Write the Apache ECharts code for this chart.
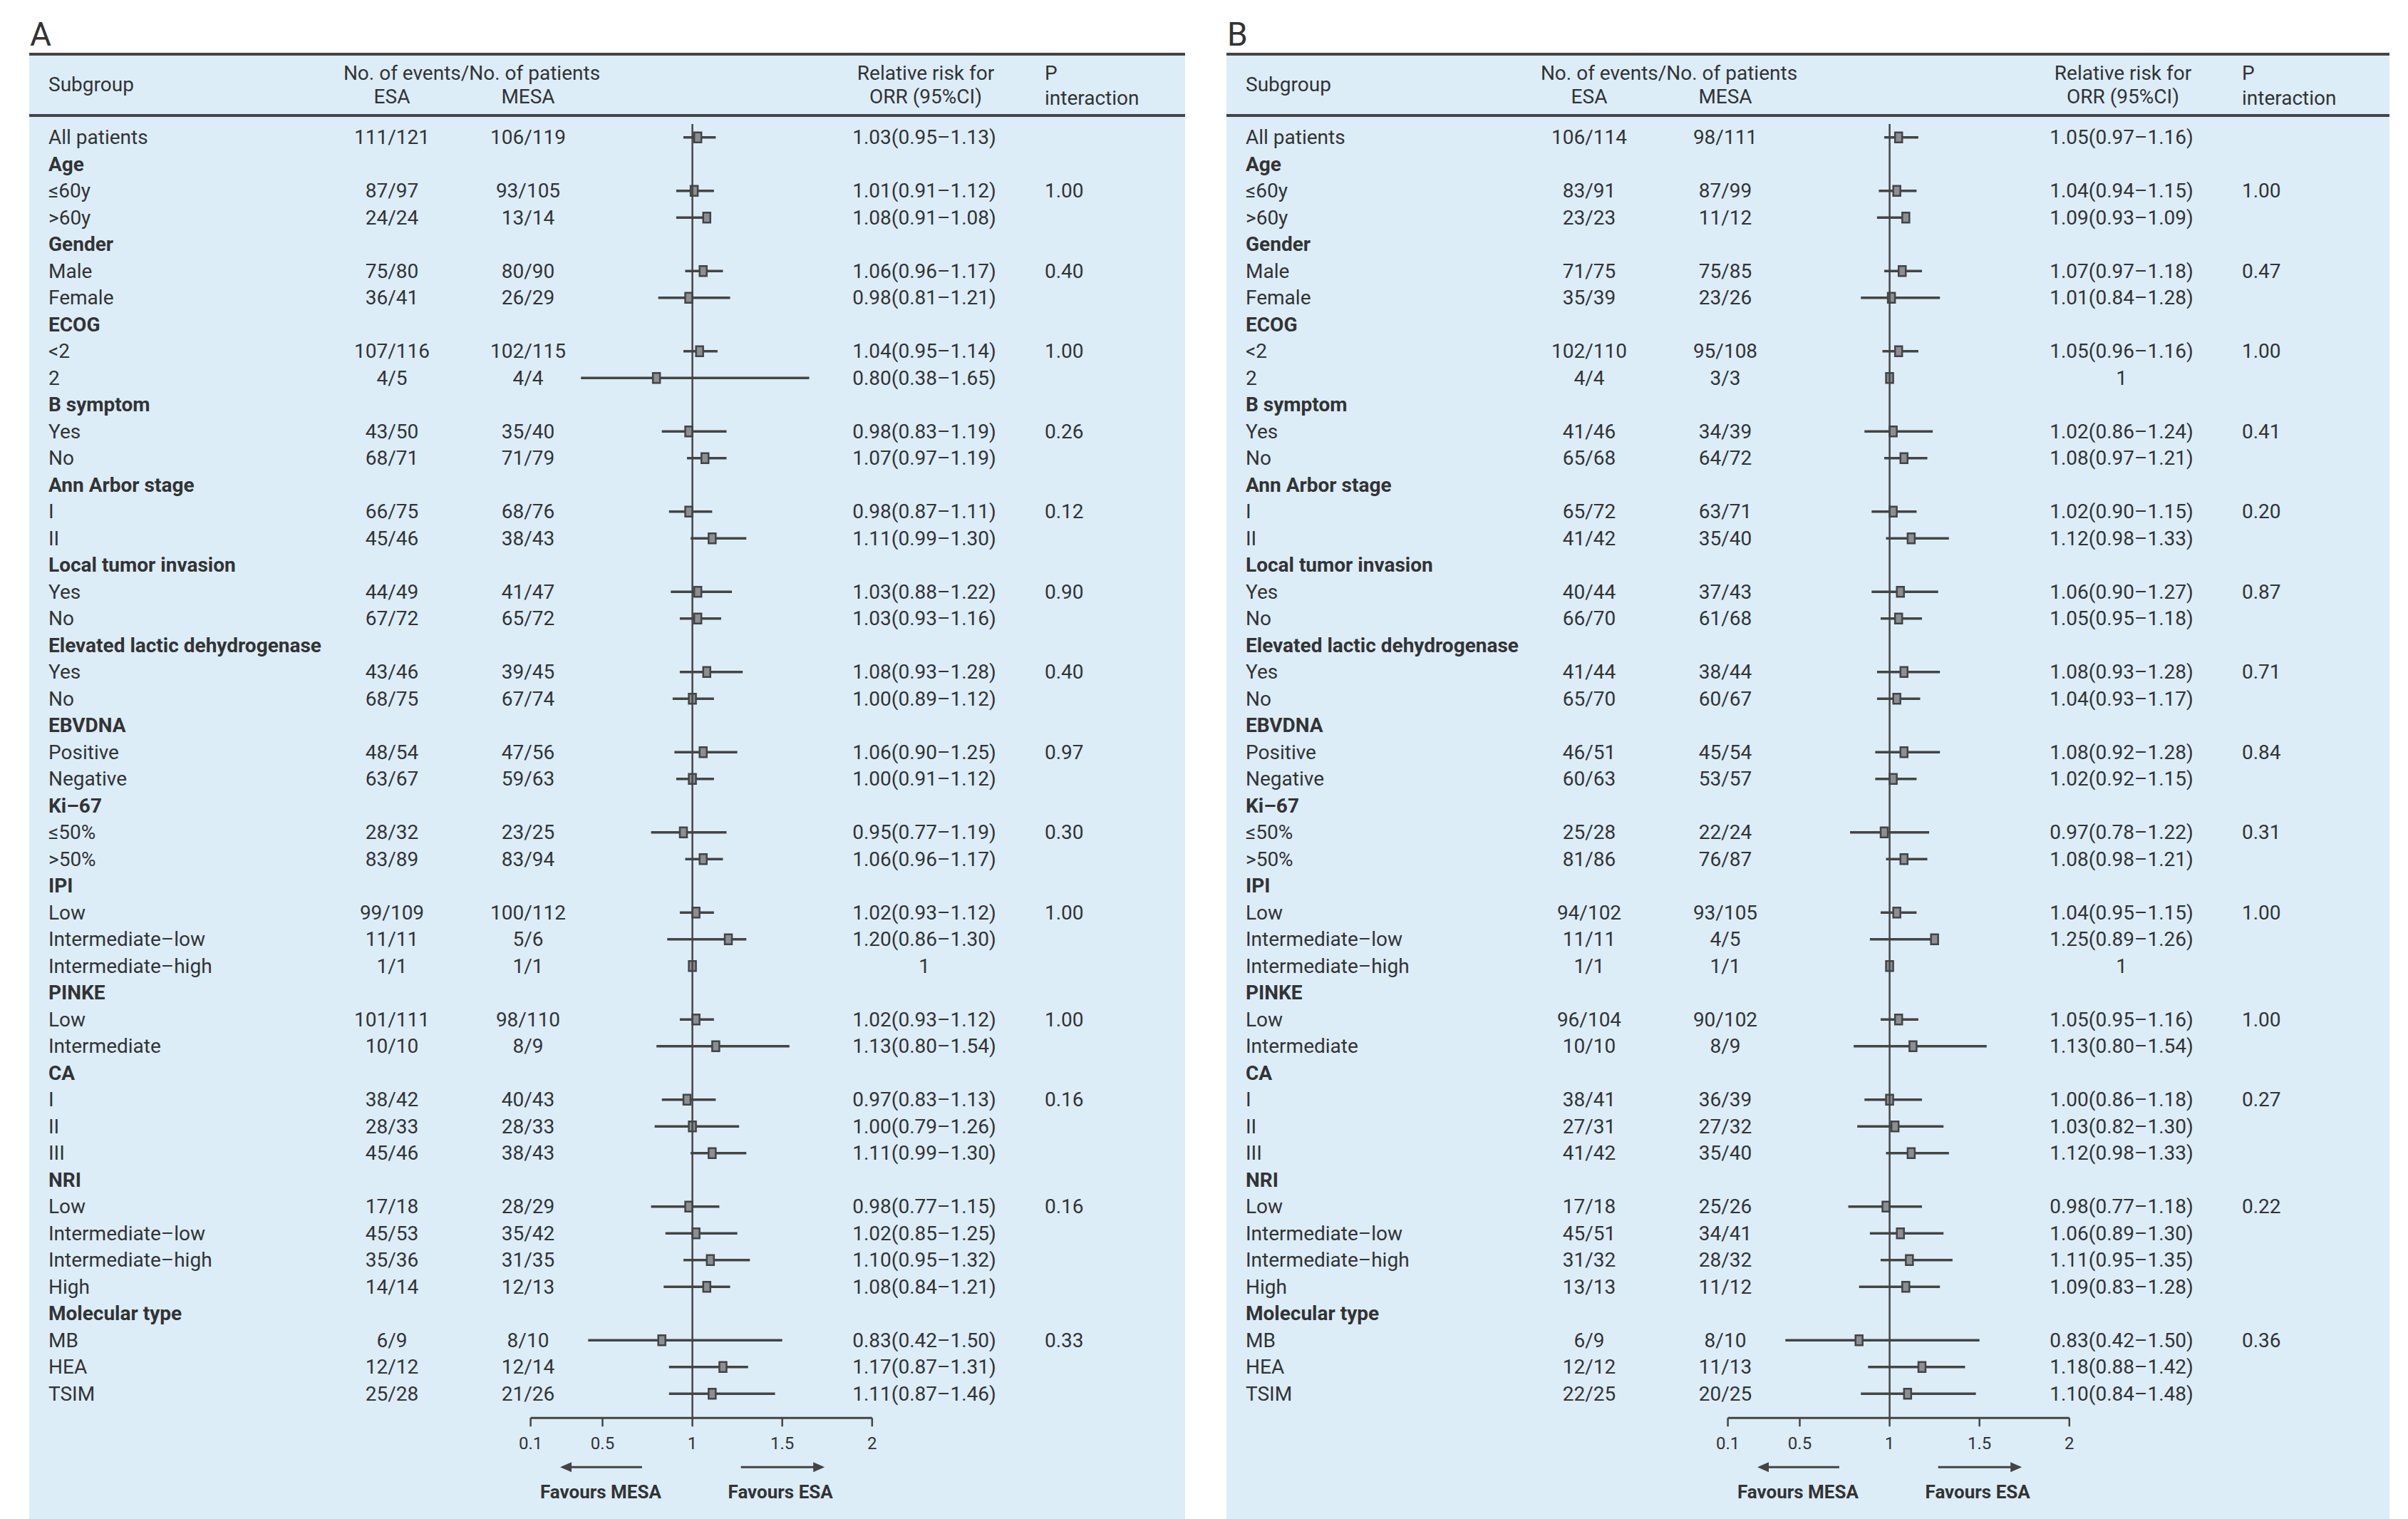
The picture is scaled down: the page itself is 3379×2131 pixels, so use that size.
<!DOCTYPE html>
<html>
<head>
<meta charset="utf-8">
<script src="https://cdn.jsdelivr.net/npm/echarts@6/dist/echarts.min.js"></script>
<style>html,body{margin:0;padding:0;background:#fff}#chart{width:3379px;height:2131px}</style>
</head>
<body>
<div id="chart"></div>
<script>
// rows of the table (header rows are bold, no data)
var subgroups = ['All patients','Age','≤60y','>60y','Gender','Male','Female','ECOG','<2','2','B symptom','Yes','No',
  'Ann Arbor stage','I','II','Local tumor invasion','Yes','No','Elevated lactic dehydrogenase','Yes','No',
  'EBVDNA','Positive','Negative','Ki–67','≤50%','>50%','IPI','Low','Intermediate–low','Intermediate–high',
  'PINKE','Low','Intermediate','CA','I','II','III','NRI','Low','Intermediate–low','Intermediate–high','High',
  'Molecular type','MB','HEA','TSIM'];
var headerRows = [1,4,7,10,13,16,19,22,25,28,32,35,39,44];

// panel A (34 data rows, in order)
var esaA = ['111/121','87/97','24/24','75/80','36/41','107/116','4/5','43/50','68/71','66/75','45/46','44/49','67/72',
  '43/46','68/75','48/54','63/67','28/32','83/89','99/109','11/11','1/1','101/111','10/10','38/42','28/33','45/46',
  '17/18','45/53','35/36','14/14','6/9','12/12','25/28'];
var mesaA = ['106/119','93/105','13/14','80/90','26/29','102/115','4/4','35/40','71/79','68/76','38/43','41/47','65/72',
  '39/45','67/74','47/56','59/63','23/25','83/94','100/112','5/6','1/1','98/110','8/9','40/43','28/33','38/43',
  '28/29','35/42','31/35','12/13','8/10','12/14','21/26'];
var estA = [1.03,1.01,1.08,1.06,0.98,1.04,0.80,0.98,1.07,0.98,1.11,1.03,1.03,1.08,1.00,1.06,1.00,0.95,1.06,1.02,1.20,1,
  1.02,1.13,0.97,1.00,1.11,0.98,1.02,1.10,1.08,0.83,1.17,1.11];
var loA = [0.95,0.91,0.91,0.96,0.81,0.95,0.38,0.83,0.97,0.87,0.99,0.88,0.93,0.93,0.89,0.90,0.91,0.77,0.96,0.93,0.86,1,
  0.93,0.80,0.83,0.79,0.99,0.77,0.85,0.95,0.84,0.42,0.87,0.87];
var hiA = [1.13,1.12,1.08,1.17,1.21,1.14,1.65,1.19,1.19,1.11,1.30,1.22,1.16,1.28,1.12,1.25,1.12,1.19,1.17,1.12,1.30,1,
  1.12,1.54,1.13,1.26,1.30,1.15,1.25,1.32,1.21,1.50,1.31,1.46];
var pA = ['','1.00','','0.40','','1.00','','0.26','','0.12','','0.90','','0.40','','0.97','','0.30','','1.00','','',
  '1.00','','0.16','','','0.16','','','','0.33','',''];

// panel B
var esaB = ['106/114','83/91','23/23','71/75','35/39','102/110','4/4','41/46','65/68','65/72','41/42','40/44','66/70',
  '41/44','65/70','46/51','60/63','25/28','81/86','94/102','11/11','1/1','96/104','10/10','38/41','27/31','41/42',
  '17/18','45/51','31/32','13/13','6/9','12/12','22/25'];
var mesaB = ['98/111','87/99','11/12','75/85','23/26','95/108','3/3','34/39','64/72','63/71','35/40','37/43','61/68',
  '38/44','60/67','45/54','53/57','22/24','76/87','93/105','4/5','1/1','90/102','8/9','36/39','27/32','35/40',
  '25/26','34/41','28/32','11/12','8/10','11/13','20/25'];
var estB = [1.05,1.04,1.09,1.07,1.01,1.05,1,1.02,1.08,1.02,1.12,1.06,1.05,1.08,1.04,1.08,1.02,0.97,1.08,1.04,1.25,1,
  1.05,1.13,1.00,1.03,1.12,0.98,1.06,1.11,1.09,0.83,1.18,1.10];
var loB = [0.97,0.94,0.93,0.97,0.84,0.96,1,0.86,0.97,0.90,0.98,0.90,0.95,0.93,0.93,0.92,0.92,0.78,0.98,0.95,0.89,1,
  0.95,0.80,0.86,0.82,0.98,0.77,0.89,0.95,0.83,0.42,0.88,0.84];
var hiB = [1.16,1.15,1.09,1.18,1.28,1.16,1,1.24,1.21,1.15,1.33,1.27,1.18,1.28,1.17,1.28,1.15,1.22,1.21,1.15,1.26,1,
  1.16,1.54,1.18,1.30,1.33,1.18,1.30,1.35,1.28,1.50,1.42,1.48];
var pB = ['','1.00','','0.47','','1.00','','0.41','','0.20','','0.87','','0.71','','0.84','','0.31','','1.00','','',
  '1.00','','0.27','','','0.22','','','','0.36','',''];

var tickVals = [0.1, 0.5, 1, 1.5, 2];

var FONT = 'Roboto, "Noto Sans", sans-serif';
var TXT = '#333333', LINE = '#444444', BG = '#dcedf8';
var panels = [
  {name: 'A', off: 0, right: 1663, esa: esaA, mesa: mesaA, est: estA, lo: loA, hi: hiA, p: pA},
  {name: 'B', off: 1680, right: 3353, esa: esaB, mesa: mesaB, est: estB, lo: loB, hi: hiB, p: pB}
];
var ROWH = 37.5, TOP = 174, AXL = 744.6, AXW = 479.2;

function fmt(e, l, h) {
  if (e === 1 && l === 1 && h === 1) return '1';
  return e.toFixed(2) + '(' + l.toFixed(2) + '–' + h.toFixed(2) + ')';
}

function txt(s, x, y, opt) {
  opt = opt || {};
  return {type: 'text', silent: true, style: {text: s, x: x, y: y, fill: TXT,
    font: (opt.bold ? 'bold ' : '') + (opt.size || 28) + 'px ' + FONT,
    textAlign: opt.align || 'left', textVerticalAlign: 'middle'}};
}

var grids = [], xAxes = [], yAxes = [], series = [], graphics = [];
var rowIdx = subgroups.map(function (s, i) { return i; });

panels.forEach(function (pn, k) {
  var o = pn.off;
  grids.push({left: AXL + o, top: TOP, width: AXW, height: ROWH * 48});
  xAxes.push({gridIndex: k, type: 'value', min: 0.1, max: 2, show: false});
  yAxes.push({gridIndex: k, type: 'category', data: rowIdx, inverse: true, show: false});

  // background, rules, header
  graphics.push({type: 'rect', shape: {x: 41 + o, y: 76, width: pn.right - 41 - o, height: 2131 - 76}, style: {fill: BG}, z: -10});
  graphics.push({type: 'rect', shape: {x: 41 + o, y: 74, width: pn.right - 41 - o, height: 4}, style: {fill: LINE}});
  graphics.push({type: 'rect', shape: {x: 41 + o, y: 160, width: pn.right - 41 - o, height: 4}, style: {fill: LINE}});
  graphics.push(txt(pn.name, 42 + o, 48, {size: 46}));
  graphics.push(txt('Subgroup', 68 + o, 118));
  graphics.push(txt('No. of events/No. of patients', 662 + o, 102, {align: 'center'}));
  graphics.push(txt('ESA', 550 + o, 135, {align: 'center'}));
  graphics.push(txt('MESA', 741 + o, 135, {align: 'center'}));
  graphics.push(txt('Relative risk for', 1299 + o, 102, {align: 'center'}));
  graphics.push(txt('ORR (95%CI)', 1299 + o, 135, {align: 'center'}));
  graphics.push(txt('P', 1466 + o, 102));
  graphics.push(txt('interaction', 1466 + o, 137));

  // map data rows onto table rows
  var rows = [], d = 0;
  subgroups.forEach(function (s, i) {
    var isHead = headerRows.indexOf(i) >= 0;
    rows.push(isHead ? {label: s, head: true} :
      {label: s, esa: pn.esa[d], mesa: pn.mesa[d], e: pn.est[d], l: pn.lo[d], h: pn.hi[d], p: pn.p[d++]});
  });

  series.push({
    type: 'custom', xAxisIndex: k, yAxisIndex: k, clip: false,
    data: rows.map(function (r, i) { return [r.head ? 1 : r.e, i]; }),
    renderItem: function (params, api) {
      var r = rows[params.dataIndex];
      var y = api.coord([1, params.dataIndex])[1];
      var ch = [txt(r.label, 68 + o, y, {bold: r.head})];
      if (!r.head) {
        ch.push(txt(r.esa, 550 + o, y, {align: 'center'}));
        ch.push(txt(r.mesa, 741 + o, y, {align: 'center'}));
        ch.push(txt(fmt(r.e, r.l, r.h), 1297 + o, y, {align: 'center'}));
        if (r.p) ch.push(txt(r.p, 1466 + o, y));
        var pl = api.coord([r.l, params.dataIndex]), ph = api.coord([r.h, params.dataIndex]);
        var pe = api.coord([r.e, params.dataIndex]);
        if (r.h > r.l) ch.push({type: 'line', shape: {x1: pl[0], y1: y, x2: ph[0], y2: y}, style: {stroke: LINE, lineWidth: 3.5}});
        ch.push({type: 'rect', shape: {x: pe[0] - 5, y: y - 7, width: 10, height: 14},
          style: {fill: '#8a8f94', stroke: LINE, lineWidth: 2.5}});
      }
      return {type: 'group', children: ch};
    }
  });

  // x axis, reference line and direction arrows
  series.push({
    type: 'custom', xAxisIndex: k, yAxisIndex: k, clip: false,
    data: tickVals.map(function (v) { return [v, 47]; }),
    renderItem: function (params, api) {
      var v = tickVals[params.dataIndex];
      var p = api.coord([v, 47]);
      var ay = p[1] + 34;
      var ch = [
        {type: 'line', shape: {x1: p[0], y1: ay, x2: p[0], y2: ay + 12}, style: {stroke: LINE, lineWidth: 2.5}},
        txt(String(v), p[0], ay + 36, {align: 'center', size: 24})
      ];
      if (v === 1) {
        ch.push({type: 'line', shape: {x1: p[0], y1: TOP, x2: p[0], y2: ay}, style: {stroke: LINE, lineWidth: 2.5}});
      }
      if (params.dataIndex === 0) {
        var a = api.coord([2, 47]);
        ch.push({type: 'line', shape: {x1: p[0], y1: ay, x2: a[0], y2: ay}, style: {stroke: LINE, lineWidth: 3}});
        var l1 = api.coord([0.72, 47])[0], l2 = api.coord([0.28, 47])[0];
        var r1 = api.coord([1.27, 47])[0], r2 = api.coord([1.72, 47])[0];
        var yy = ay + 69;
        ch.push({type: 'line', shape: {x1: l1, y1: yy, x2: l2, y2: yy}, style: {stroke: LINE, lineWidth: 3}});
        ch.push({type: 'polygon', shape: {points: [[l2 - 4, yy], [l2 + 12, yy - 7], [l2 + 12, yy + 7]]}, style: {fill: LINE}});
        ch.push({type: 'line', shape: {x1: r1, y1: yy, x2: r2, y2: yy}, style: {stroke: LINE, lineWidth: 3}});
        ch.push({type: 'polygon', shape: {points: [[r2 + 4, yy], [r2 - 12, yy - 7], [r2 - 12, yy + 7]]}, style: {fill: LINE}});
        ch.push(txt('Favours MESA', api.coord([0.49, 47])[0], yy + 35, {align: 'center', size: 26, bold: true}));
        ch.push(txt('Favours ESA', api.coord([1.49, 47])[0], yy + 35, {align: 'center', size: 26, bold: true}));
      }
      return {type: 'group', children: ch};
    }
  });
});

var chart = echarts.init(document.getElementById('chart'), null, {renderer: 'svg'});
chart.setOption({
  animation: false,
  backgroundColor: '#ffffff',
  grid: grids, xAxis: xAxes, yAxis: yAxes,
  graphic: graphics,
  series: series
});
</script>
</body>
</html>
